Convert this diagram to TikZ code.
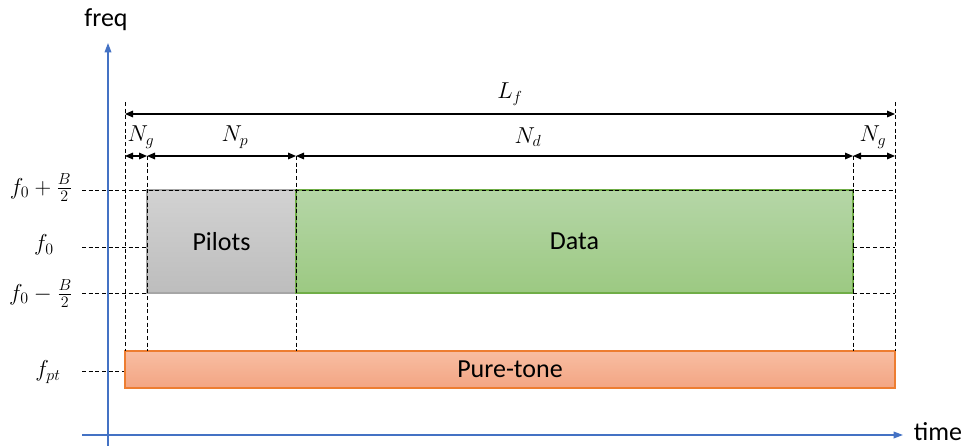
\documentclass[tikz,border=0pt]{standalone}
\usepackage{fontspec}
\setsansfont{Carlito}
\usetikzlibrary{arrows.meta}
\definecolor{axisblue}{HTML}{4472C4}
\definecolor{pilotborder}{HTML}{A6A6A6}
\definecolor{pilottop}{HTML}{D2D2D2}
\definecolor{pilotbot}{HTML}{BDBDBD}
\definecolor{databorder}{HTML}{70AD47}
\definecolor{datatop}{HTML}{B5D6A7}
\definecolor{databot}{HTML}{9CC982}
\definecolor{ptborder}{HTML}{ED7D31}
\definecolor{pttop}{HTML}{F8BDA2}
\definecolor{ptbot}{HTML}{F3A583}
\newdimen\pxu \pxu=0.75pt
\tikzset{
  axisline/.style={axisblue, line width=1pt, -{Triangle[length=7pt,width=5pt]}},
  guide/.style={black, line width=0.7pt, dash pattern=on 3pt off 2pt},
  dimline/.style={black, line width=0.8pt, {Triangle[length=6pt,width=5pt]}-{Triangle[length=6pt,width=5pt]}},
  block/.style={draw, line width=0.8pt, inner sep=0pt, font=\sffamily\fontsize{19.5}{22}\selectfont},
  mathlbl/.style={font=\fontsize{18.5}{20}\selectfont, inner sep=0pt},
  sidelbl/.style={font=\fontsize{17.5}{19}\selectfont, inner sep=0pt},
  axlbl/.style={font=\sffamily\fontsize{19.5}{22}\selectfont, inner sep=0pt},
}
\begin{document}
\begin{tikzpicture}[x=0.75pt,y=-0.75pt]
\useasboundingbox (0,0) rectangle (968,446);
% boxes
\node[block, draw=pilotborder, top color=pilottop, bottom color=pilotbot,
  minimum width=149\pxu, minimum height=103\pxu] (pilots) at (221.5,241.5) {Pilots};
\node[block, draw=databorder, top color=datatop, bottom color=databot,
  minimum width=557\pxu, minimum height=103\pxu] (data) at (574.5,241.5) {Data};
\node[block, draw=ptborder, top color=pttop, bottom color=ptbot,
  minimum width=770\pxu, minimum height=37\pxu] (pt) at (510,369.5) {Pure-tone};
% coordinates
\coordinate (aT) at (125,102); \coordinate (aB) at (125,351);
\coordinate (eT) at (895,102); \coordinate (eB) at (895,351);
\coordinate (bT) at (147,156); \coordinate (bB) at (147,351);
\coordinate (cT) at (296,156); \coordinate (cB) at (296,351);
\coordinate (dT) at (853,156); \coordinate (dB) at (853,351);
\coordinate (aL) at (125,114); \coordinate (eL) at (895,114);
\coordinate (aN) at (125,156); \coordinate (eN) at (895,156);
\coordinate (h1s) at (82,190); \coordinate (h1e) at (895,190);
\coordinate (h2s) at (82,247); \coordinate (h2e) at (147,247);
\coordinate (h2r) at (853,247); \coordinate (h2f) at (895,247);
\coordinate (h3s) at (82,293); \coordinate (h3e) at (147,293);
\coordinate (h3r) at (853,293); \coordinate (h3f) at (895,293);
\coordinate (h4s) at (82,371);
% guides
\draw[guide] (aT) -- (aB);
\draw[guide] (eT) -- (eB);
\draw[guide] (bT) -- (bB);
\draw[guide] (cT) -- (cB);
\draw[guide] (dT) -- (dB);
\draw[guide] (h1s) -- (h1e);
\draw[guide] (h2s) -- (h2e);
\draw[guide] (h2r) -- (h2f);
\draw[guide] (h3s) -- (h3e);
\draw[guide] (h3r) -- (h3f);
\draw[guide] (h4s) -- (pt.west |- h4s);
% dimension arrows
\draw[dimline] (aL) -- (eL);
\draw[dimline] (aN) -- (bT);
\draw[dimline] (bT) -- (cT);
\draw[dimline] (cT) -- (dT);
\draw[dimline] (dT) -- (eN);
\node[mathlbl] (lf) at (510,94) {$L_f$};
\node[mathlbl] (ng1) at (141,137) {$N_g$};
\node[mathlbl] (np) at (235,137) {$N_p$};
\node[mathlbl] (nd) at (528,137) {$N_d$};
\node[mathlbl] (ng2) at (873,137) {$N_g$};
% left labels
\node[sidelbl] (fhi) at (41,188) {$f_0+\frac{B}{2}$};
\node[sidelbl] (fmid) at (44,245) {$f_0$};
\node[sidelbl] (flo) at (41,294) {$f_0-\frac{B}{2}$};
\node[sidelbl] (fpt) at (48,372) {$f_{pt}$};
% axes
\coordinate (fy0) at (108,446); \coordinate (fy1) at (108,43);
\coordinate (tx0) at (82,435); \coordinate (tx1) at (903,435);
\draw[axisline] (fy0) -- (fy1);
\draw[axisline] (tx0) -- (tx1);
\node[axlbl] (freq) at (106,20) {freq};
\node[axlbl] (time) at (938,432) {time};
\end{tikzpicture}
\end{document}
